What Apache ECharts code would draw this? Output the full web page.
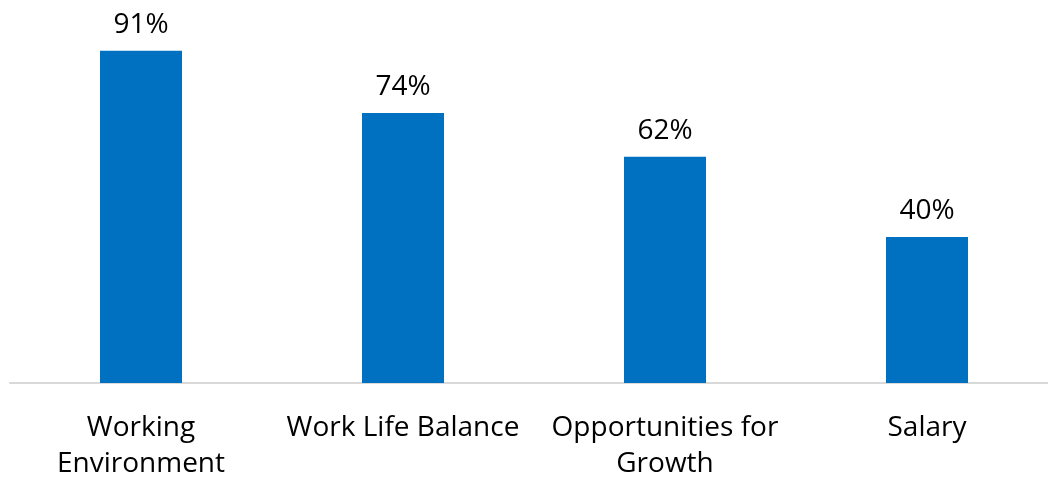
<!DOCTYPE html>
<html>
<head>
<meta charset="utf-8">
<script src="https://cdn.jsdelivr.net/npm/echarts@6/dist/echarts.min.js"></script>
<style>
  html, body { margin: 0; padding: 0; background: #fff; }
  #chart { width: 1048px; height: 481px; }
</style>
</head>
<body>
<div id="chart"></div>
<script>
const categories = ['Working\nEnvironment', 'Work Life Balance', 'Opportunities for\nGrowth', 'Salary'];
const values = [91, 74, 62, 40];

const chart = echarts.init(document.getElementById('chart'), null, { renderer: 'canvas' });
chart.setOption({
  animation: false,
  backgroundColor: '#ffffff',
  textStyle: { fontFamily: 'Open Sans' },
  // plot spans past the right edge so each category band is 262px wide
  grid: { left: 10, width: 1048, top: 18, height: 365, containLabel: false, outerBoundsMode: 'none' },
  xAxis: {
    type: 'category',
    data: categories,
    axisLine: { show: true, lineStyle: { color: '#d9d9d9', width: 2 } },
    axisTick: { show: false },
    axisLabel: {
      interval: 0,
      color: '#000000',
      fontSize: 28,
      lineHeight: 36,
      margin: 27,
      fontFamily: 'Open Sans'
    }
  },
  yAxis: {
    type: 'value',
    min: 0,
    max: 100,
    show: false,
    splitLine: { show: false }
  },
  series: [{
    type: 'bar',
    data: values,
    barWidth: 82,
    itemStyle: { color: '#0070C0' },
    label: {
      show: true,
      position: 'top',
      distance: 12,
      color: '#000000',
      fontSize: 28,
      fontFamily: 'Open Sans',
      formatter: p => p.value + '%'
    }
  }]
});
</script>
</body>
</html>
